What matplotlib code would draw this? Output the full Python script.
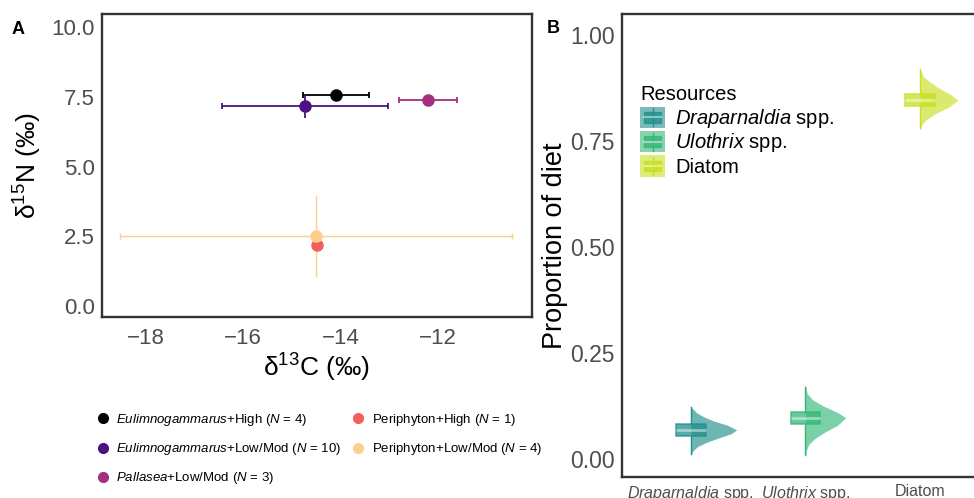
import numpy as np
import matplotlib
matplotlib.use("Agg")
import matplotlib.pyplot as plt
from matplotlib.lines import Line2D
from matplotlib.patches import Patch, Rectangle
from matplotlib.legend_handler import HandlerBase

plt.rcParams['font.family'] = ['Liberation Sans', 'DejaVu Sans']
plt.rcParams['mathtext.fontset'] = 'custom'
plt.rcParams['mathtext.rm'] = 'Liberation Sans'
plt.rcParams['mathtext.it'] = 'Liberation Sans:italic'

# ---- panel A data: isotope means and sd ----
groups = [r"$\mathit{Eulimnogammarus}$+High ($\mathit{N}$ = 4)",
          r"$\mathit{Eulimnogammarus}$+Low/Mod ($\mathit{N}$ = 10)",
          r"$\mathit{Pallasea}$+Low/Mod ($\mathit{N}$ = 3)",
          r"Periphyton+High ($\mathit{N}$ = 1)",
          r"Periphyton+Low/Mod ($\mathit{N}$ = 4)"]
d13c = [-14.10, -14.74, -12.21, -14.49, -14.51]
d13c_sd = [0.67, 1.70, 0.60, 0.0, 4.01]
d15n = [7.58, 7.16, 7.40, 2.18, 2.52]
d15n_sd = [0.05, 0.40, 0.05, 0.0, 1.46]
colsA = ["#000004", "#4A1282", "#A3307E", "#F1605D", "#FECE91"]

# ---- panel B data: diet proportions ----
resources = [r"$\mathit{Draparnaldia}$ spp.", r"$\mathit{Ulothrix}$ spp.", "Diatom"]
colsB = ["#21908C", "#35B779", "#C8E020"]
# box summaries (whislo, q1, med, q3, whishi)
box_lo = [0.012, 0.010, 0.780]
box_q1 = [0.055, 0.082, 0.833]
box_med = [0.069, 0.097, 0.847]
box_q3 = [0.083, 0.111, 0.861]
box_hi = [0.122, 0.170, 0.920]
# density outline (proportion, relative width)
drap_y = [0.010, 0.020, 0.030, 0.040, 0.050, 0.060, 0.069, 0.080, 0.090, 0.100, 0.110, 0.124]
drap_w = [0.0, 0.05, 0.15, 0.35, 0.60, 0.88, 1.0, 0.80, 0.50, 0.28, 0.12, 0.0]
ulo_y = [0.006, 0.020, 0.035, 0.050, 0.065, 0.080, 0.098, 0.110, 0.125, 0.140, 0.155, 0.175]
ulo_w = [0.0, 0.02, 0.08, 0.25, 0.50, 0.80, 1.0, 0.80, 0.45, 0.18, 0.04, 0.0]
dia_y = [0.777, 0.790, 0.800, 0.815, 0.830, 0.847, 0.860, 0.875, 0.890, 0.903, 0.922]
dia_w = [0.0, 0.05, 0.15, 0.40, 0.75, 1.0, 0.80, 0.50, 0.25, 0.08, 0.0]
dens_y = [drap_y, ulo_y, dia_y]
dens_w = [drap_w, ulo_w, dia_w]
dens_max = [0.40, 0.35, 0.33]

fig = plt.figure(figsize=(9.74, 4.98), dpi=100)
axA = fig.add_axes([0.1044, 0.3629, 0.4418, 0.609])
axB = fig.add_axes([0.6386, 0.0422, 0.3768, 0.9297])

grey = "#4D4D4D"
for ax in (axA, axB):
    for s in ax.spines.values():
        s.set_linewidth(1.7)
        s.set_color("#333333")
    ax.tick_params(length=0, labelcolor=grey)

# panel A
for i in range(5):
    lw = 1.0 if i == 4 else 1.3
    axA.errorbar(d13c[i], d15n[i], xerr=d13c_sd[i], fmt='none', ecolor=colsA[i],
                 elinewidth=lw, capsize=2, capthick=lw)
    axA.errorbar(d13c[i], d15n[i], yerr=d15n_sd[i], fmt='none', ecolor=colsA[i],
                 elinewidth=lw, capsize=0)
for i in [0, 1, 2, 3, 4]:
    axA.plot(d13c[i], d15n[i], 'o', color=colsA[i], markersize=8, zorder=5)

axA.set_xlim(-18.9, -10.08)
axA.set_ylim(-0.4, 10.47)
axA.set_xticks([-18, -16, -14, -12])
axA.set_yticks([0, 2.5, 5, 7.5, 10])
axA.set_yticklabels(["0.0", "2.5", "5.0", "7.5", "10.0"])
axA.tick_params(labelsize=16, pad=5)
axA.tick_params(axis='x', pad=8)
axA.set_xlabel(r"δ$^{13}$C (‰)", fontsize=19)
axA.set_ylabel(r"δ$^{15}$N (‰)", fontsize=19)
axA.xaxis.set_label_coords(0.5, -0.115)
axA.yaxis.set_label_coords(-0.135, 0.5)

handles = [Line2D([], [], marker='o', ls='', color=c, markersize=7) for c in colsA]
fig.legend(handles, groups, ncol=2, loc='upper left', bbox_to_anchor=(96 / 974, 1 - 412 / 498),
           frameon=False, fontsize=9.5, handlelength=1.0, handletextpad=0.5,
           columnspacing=0.83, labelspacing=1.0, borderpad=0, borderaxespad=0)

# panel B
pos = [1, 2, 3]
for i in range(3):
    yy = np.array(dens_y[i])
    ww = np.array(dens_w[i]) * dens_max[i]
    axB.fill_betweenx(yy, pos[i], pos[i] + ww, color=colsB[i], alpha=0.65, lw=0)
stats = [dict(whislo=box_lo[i], q1=box_q1[i], med=box_med[i], q3=box_q3[i], whishi=box_hi[i])
         for i in range(3)]
bp = axB.bxp(stats, positions=pos, widths=0.26, patch_artist=True, showfliers=False,
             showcaps=False, medianprops=dict(color='white', alpha=0.45, lw=2))
for i, b in enumerate(bp['boxes']):
    b.set_facecolor(colsB[i])
    b.set_alpha(0.75)
    b.set_edgecolor(colsB[i])
    b.set_linewidth(1.2)
for i, w in enumerate(bp['whiskers']):
    w.set_color(colsB[i // 2])
    w.set_linewidth(1.0)

axB.set_xlim(0.4, 3.6)
axB.set_ylim(-0.042, 1.05)
axB.set_xticks(pos)
axB.set_xticklabels(resources, fontsize=11.5)
axB.set_yticks([0, 0.25, 0.5, 0.75, 1.0])
axB.set_yticklabels(["0.00", "0.25", "0.50", "0.75", "1.00"])
axB.tick_params(axis='y', labelsize=16.5, pad=5)
axB.tick_params(axis='x', pad=5)
axB.set_ylabel("Proportion of diet", fontsize=19.5)
axB.yaxis.set_label_coords(-0.146, 0.5)


class BoxKey(HandlerBase):
    def create_artists(self, legend, orig_handle, xdescent, ydescent, width, height, fontsize, trans):
        c = orig_handle.get_facecolor()
        x0, y0 = -xdescent, -ydescent
        bg = Rectangle((x0, y0), width, height, facecolor=c, alpha=0.6, ec='none', transform=trans)
        inner = Rectangle((x0 + width * 0.15, y0 + height * 0.25), width * 0.7, height * 0.5,
                          facecolor=c, alpha=0.8, ec=c, lw=1, transform=trans)
        vl = Line2D([x0 + width / 2] * 2, [y0 + height * 0.08, y0 + height * 0.92], color=c, lw=1,
                    transform=trans)
        md = Line2D([x0 + width * 0.15, x0 + width * 0.85], [y0 + height / 2] * 2, color='white',
                    alpha=0.45, lw=1.5, transform=trans)
        return [bg, vl, inner, md]


keyh = [Patch(facecolor=c) for c in colsB]
axB.legend(keyh, resources, loc='upper left', bbox_to_anchor=(0.049, 0.80), frameon=False,
           fontsize=14.5, handler_map={Patch: BoxKey()}, handlelength=1.25,
           handleheight=1.25, labelspacing=0.05, handletextpad=0.5,
           borderpad=0, borderaxespad=0)
fig.text(640 / 974, 1 - 100 / 498, "Resources", fontsize=14.5, va='baseline')

fig.text(12 / 974, 1 - 34 / 498, "A", fontsize=13, fontweight='bold')
fig.text(547 / 974, 1 - 33 / 498, "B", fontsize=13, fontweight='bold')

fig.savefig("out.png", dpi=100)
